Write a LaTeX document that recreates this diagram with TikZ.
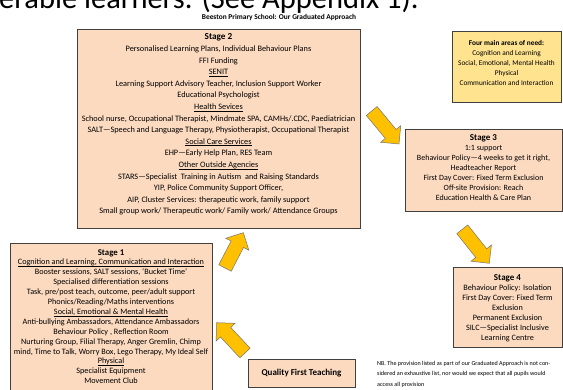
\documentclass[tikz,border=0pt]{standalone}
\usepackage{fontspec}
\setmainfont{Carlito}
\usetikzlibrary{calc,positioning}

\definecolor{peach}{HTML}{FCDAC0}
\definecolor{needyellow}{HTML}{FFE38F}
\definecolor{arrowgold}{HTML}{FFC000}
\newcommand{\undl}[1]{\underline{\smash{#1}}}

\begin{document}
\begin{tikzpicture}[x=1pt,y=-1pt,
	box/.style={draw=black!75,line width=0.8pt,fill=peach,inner sep=0pt},
	boxtext/.style={align=center,inner sep=0pt,anchor=north},
	blockarrow/.style={fill=arrowgold,draw=black!55,line width=0.5pt,line join=miter}]
	\useasboundingbox (0,0) rectangle (563,390);
	\clip (0,0) rectangle (563,390);
	% heading, cut by the page edge
	\node[anchor=base west,inner sep=0pt,font=\fontsize{30.5}{32}\selectfont] (head) at (-1,8.5) {erable learners. (See Appendix 1).};
	\node[inner sep=0pt,font=\bfseries\fontsize{7.4}{8}\selectfont] (title) at (279,17) {Beeston Primary School: Our Graduated Approach};

	% boxes
	\node[box,minimum width=283pt,minimum height=199pt] (stage2) at (218.5,128.5) {};
	\node[box,minimum width=202pt,minimum height=160pt] (stage1) at (111,323) {};
	\node[box,minimum width=157pt,minimum height=82pt] (stage3) at (483.5,170) {};
	\node[box,minimum width=109pt,minimum height=80pt] (stage4) at (507.5,307) {};
	\node[box,fill=needyellow,line width=1pt,minimum width=109pt,minimum height=71pt] (needs) at (506.5,67.5) {};
	\node[box,minimum width=107pt,minimum height=28pt,font=\bfseries\fontsize{9}{10}\selectfont] (qft) at (301.5,373) {Quality First Teaching};

	% box texts
	\node[boxtext,font=\fontsize{8.3}{11.6}\selectfont] (stage2txt) at ([yshift=-5pt]stage2.north) {%
		{\bfseries\fontsize{9.2}{11}\selectfont Stage 2}\\
		Personalised Learning Plans, Individual Behaviour Plans\\
		FFI Funding\\
		\undl{SENIT}\\
		Learning Support Advisory Teacher, Inclusion Support Worker\\
		Educational Psychologist\\
		\undl{Health Sevices}\\
		School nurse, Occupational Therapist, Mindmate SPA, CAMHs/.CDC, Paediatrician\\
		SALT—Speech and Language Therapy, Physiotherapist, Occupational Therapist\\
		\undl{Social Care Services}\\
		EHP—Early Help Plan, RES Team\\
		\undl{Other Outside Agencies}\\
		STARS—Specialist\ \ Training in Autism\ \ and Raising Standards\\
		YIP, Police Community Support Officer,\\
		AIP, Cluster Services: therapeutic work, family support\\
		Small group work/ Therapeutic work/ Family work/ Attendance Groups};
	\node[boxtext,font=\fontsize{8.2}{9.9}\selectfont] (stage1txt) at ([yshift=-6.5pt]stage1.north) {%
		{\bfseries\fontsize{8.8}{10}\selectfont Stage 1}\\
		\undl{Cognition and Learning, Communication and Interaction}\\
		Booster sessions, SALT sessions, ‘Bucket Time’\\
		Specialised differentiation sessions\\
		Task, pre/post teach, outcome, peer/adult support\\
		Phonics/Reading/Maths interventions\\
		\undl{Social, Emotional \& Mental Health}\\
		Anti-bullying Ambassadors, Attendance Ambassadors\\
		Behaviour Policy , Reflection Room\\
		Nurturing Group, Filial Therapy, Anger Gremlin, Chimp\\
		mind, Time to Talk, Worry Box, Lego Therapy, My Ideal Self\\
		\undl{Physical}\\
		Specialist Equipment\\
		Movement Club};
	\node[boxtext,font=\fontsize{8}{10}\selectfont] (stage3txt) at ([yshift=-6pt]stage3.north) {%
		{\bfseries\fontsize{9}{10}\selectfont Stage 3}\\
		1:1 support\\
		Behaviour Policy—4 weeks to get it right,\\
		Headteacher Report\\
		First Day Cover: Fixed Term Exclusion\\
		Off-site Provision: Reach\\
		Education Health \& Care Plan};
	\node[boxtext,font=\fontsize{8.2}{10}\selectfont] (stage4txt) at ([yshift=-7.5pt]stage4.north) {%
		{\bfseries\fontsize{9}{10}\selectfont Stage 4}\\
		Behaviour Policy: Isolation\\
		First Day Cover: Fixed Term\\
		Exclusion\\
		Permanent Exclusion\\
		SILC—Specialist Inclusive\\
		Learning Centre};
	\node[boxtext,font=\fontsize{7.3}{10}\selectfont] (needstxt) at ([yshift=-9pt]needs.north) {%
		{\bfseries Four main areas of need:}\\
		Cognition and Learning\\
		Social, Emotional, Mental Health\\
		Physical\\
		Communication and Interaction};
	\node[anchor=north west,align=left,inner sep=0pt,font=\fontsize{6.1}{10.5}\selectfont] (note) at (377,361) {%
		NB. The provision listed as part of our Graduated Approach is not con-\\
		sidered an exhaustive list, nor would we expect that all pupils would\\
		access all provision};

	% block arrows: tail and tip
	\coordinate (q1t) at (245,353);    \coordinate (q1h) at (216.7,322.7);
	\coordinate (s12t) at (225,268);   \coordinate (s12h) at (243.3,232.7);
	\coordinate (s23t) at (371.7,111); \coordinate (s23h) at (399,144);
	\coordinate (s34t) at (462.3,229.3); \coordinate (s34h) at (489.3,263.3);
	\foreach \t/\h in {q1t/q1h,s12t/s12h,s23t/s23h,s34t/s34h}{
		\coordinate (n) at ($(\h)!13pt!(\t)$);
		\draw[blockarrow] ($(\t)!7pt!90:(\h)$) -- ($(n)!7pt!90:(\h)$) -- ($(n)!13pt!90:(\h)$) -- (\h)
			-- ($(n)!13pt!-90:(\h)$) -- ($(n)!7pt!-90:(\h)$) -- ($(\t)!7pt!-90:(\h)$) -- cycle;
	}
\end{tikzpicture}
\end{document}
